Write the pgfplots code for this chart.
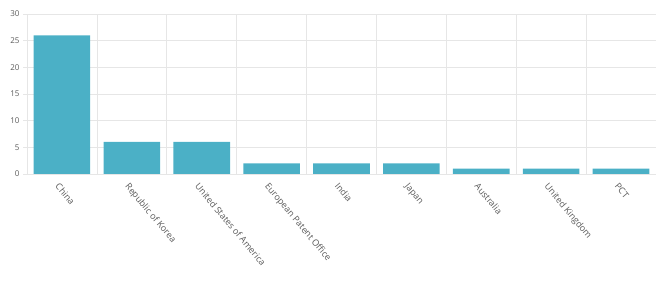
\documentclass[border=0pt]{standalone}
\usepackage{pgfplots}
\pgfplotsset{compat=1.18}
\usepackage{fontspec}
\setmainfont{Open Sans}
\definecolor{barc}{RGB}{75,176,198}
\definecolor{gridc}{RGB}{230,230,230}
\definecolor{txtc}{RGB}{90,90,90}
\begin{document}
\begin{tikzpicture}[x=1pt,y=1pt]
\useasboundingbox (0,0) rectangle (665,291);
\begin{axis}[
  at={(27pt,117pt)}, anchor=south west,
  scale only axis, width=629pt, height=160pt,
  xmin=-0.5, xmax=8.5, ymin=0, ymax=30,
  ytick={0,5,...,30},
  xtick={0,...,8},
  xticklabels={China,Republic of Korea,United States of America,European Patent Office,India,Japan,Australia,United Kingdom,PCT},
  minor xtick={0.5,1.5,...,7.5},
  xminorgrids=true, ymajorgrids=true,
  grid style={gridc, line width=0.6pt},
  minor grid style={gridc, line width=0.6pt},
  axis line style={gridc, line width=0.6pt},
  ytick style={draw=gridc, line width=0.6pt},
  major tick length=4pt,
  tick align=outside,
  xtick style={draw=none},
  axis x line*=bottom, axis y line*=left,
  x tick label style={rotate=-50, anchor=north west, font=\fontsize{9}{10}\selectfont, text=txtc, xshift=1pt, yshift=-3pt, inner sep=1pt},
  y tick label style={font=\fontsize{8}{9}\selectfont, text=txtc},
  /pgf/number format/assume math mode=true,
]
\draw[gridc, line width=0.6pt] (axis cs:-0.5,30) -- (axis cs:8.5,30) -- (axis cs:8.5,0);
\addplot[ybar, bar width=0.81, fill=barc, draw=none] coordinates {
(0,26) (1,6) (2,6) (3,2) (4,2) (5,2) (6,1) (7,1) (8,1)};
\end{axis}
\end{tikzpicture}
\end{document}
